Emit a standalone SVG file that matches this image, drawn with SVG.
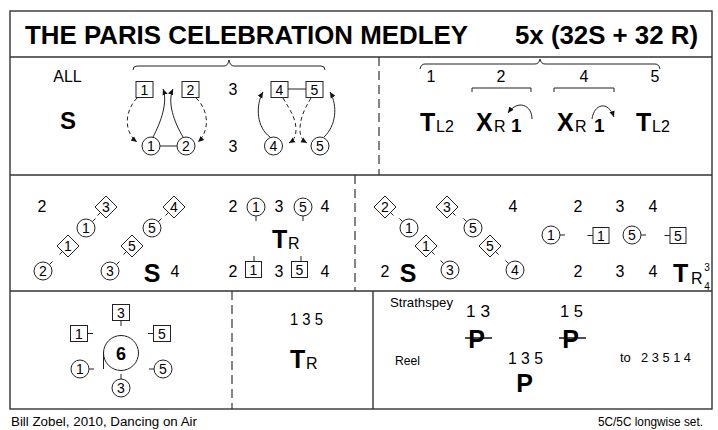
<svg xmlns="http://www.w3.org/2000/svg" width="718" height="430" viewBox="0 0 718 430">
<style>
text{font-family:"Liberation Sans",Arial,Helvetica,sans-serif;fill:#000}
.n{font-size:16px}
.nm{font-size:16px;text-anchor:middle}
.c{font-size:14px;text-anchor:middle}
.m{text-anchor:middle}
.b{font-weight:bold}
.big{font-size:25px;font-weight:bold}
.sub{font-size:16px}
.frame{fill:none;stroke:#333;stroke-width:1.4}
.dash{fill:none;stroke:#333;stroke-width:1.2;stroke-dasharray:9 5}
.sh{fill:#fff;stroke:#222;stroke-width:1}
.tk{stroke:#222;stroke-width:1;fill:none}
.ln{stroke:#222;stroke-width:1;fill:none}
.ar{stroke:#222;stroke-width:1;fill:none;marker-end:url(#ah)}
.ard{stroke:#222;stroke-width:1;fill:none;stroke-dasharray:4 3;marker-end:url(#ah)}
</style>
<defs>
<marker id="ah" markerWidth="8" markerHeight="8" refX="6" refY="3.5" orient="auto" markerUnits="userSpaceOnUse">
<path d="M0,0.8 L6,3.5 L0,6.2 Z" fill="#111"/>
</marker>
</defs>
<rect width="718" height="430" fill="#fff"/>

<g id="frame">
<rect x="10" y="11" width="702" height="398" class="frame"/>
<line x1="10" y1="57" x2="712" y2="57" class="frame"/>
<line x1="10" y1="175" x2="712" y2="175" class="frame"/>
<line x1="10" y1="291" x2="712" y2="291" class="frame"/>
<line x1="379" y1="57" x2="379" y2="175" class="dash"/>
<line x1="355" y1="175" x2="355" y2="291" class="dash"/>
<line x1="232" y1="291" x2="232" y2="409" class="dash"/>
<line x1="373" y1="291" x2="373" y2="409" class="frame"/>
</g>

<g id="title">
<text x="25" y="44" class="b" font-size="25" textLength="443" lengthAdjust="spacingAndGlyphs">THE PARIS CELEBRATION MEDLEY</text>
<text x="515" y="44" class="b" font-size="25" textLength="183" lengthAdjust="spacingAndGlyphs">5x (32S + 32 R)</text>
</g>

<g id="footer">
<text x="11" y="426" font-size="12" textLength="186" lengthAdjust="spacingAndGlyphs">Bill Zobel, 2010, Dancing on Air</text>
<text x="598" y="426" font-size="12" textLength="105" lengthAdjust="spacingAndGlyphs">5C/5C longwise set.</text>
</g>

<!-- Row 1 left -->
<g id="r1-left">
<text x="67.5" y="82" class="m" font-size="16">ALL</text>
<text x="68" y="129" class="m b" font-size="24">S</text>
<path d="M133,70 Q133,66 137,66 L224,66 Q228,66 229,60 Q230,66 234,66 L321,66 Q325,66 325,70" class="ln"/>
<text x="233" y="95" class="nm">3</text>
<text x="233" y="152" class="nm">3</text>
<line x1="288" y1="89" x2="306" y2="89" class="ln"/>
<line x1="160" y1="146" x2="177" y2="146" class="ln"/>
</g>
<g id="sq1a"><rect x="136" y="81.5" width="17" height="16" class="sh"/><text x="144.5" y="94.5" class="c">1</text></g>
<g id="sq2a"><rect x="182" y="81.5" width="17" height="16" class="sh"/><text x="190.5" y="94.5" class="c">2</text></g>
<g id="sq4a"><rect x="271" y="81.5" width="17" height="16" class="sh"/><text x="279.5" y="94.5" class="c">4</text></g>
<g id="sq5a"><rect x="306" y="81.5" width="17" height="16" class="sh"/><text x="314.5" y="94.5" class="c">5</text></g>
<g id="c1a"><circle cx="151" cy="146" r="9" class="sh"/><text x="151" y="151" class="c">1</text></g>
<g id="c2a"><circle cx="186" cy="146" r="9" class="sh"/><text x="186" y="151" class="c">2</text></g>
<g id="c4a"><circle cx="273.5" cy="146" r="9" class="sh"/><text x="273.5" y="151" class="c">4</text></g>
<g id="c5a"><circle cx="320" cy="146" r="9" class="sh"/><text x="320" y="151" class="c">5</text></g>

<g id="connectors">
<path d="M137,98 C124,112 124,132 137,142" class="ard"/>
<path d="M153,137 C161,122 168,102 163,89" class="ar"/>
<path d="M183,137 C174,122 167,102 173,89" class="ar"/>
<path d="M196,98 C209,110 210,131 198,142" class="ard"/>
<path d="M270,137 C257,128 255,106 263,92" class="ar"/>
<path d="M324,137 C336,126 338,106 330,92" class="ar"/>
<path d="M283,98 C290,110 296,118 296,130 C296,136 294,140 289,143" class="ard"/>
<path d="M311,98 C304,110 300,118 300,130 C300,136 302,140 307,143" class="ard"/>
<path d="M532,119 C532,105 518,99 508,113" class="ar"/>
<path d="M592,119 C594,104 608,100 614,117" class="ar"/>
</g>

<!-- Row 1 right -->
<g id="r1-right">
<path d="M420,69 Q421,64 425,64 L535,64 Q539,64 540,59 Q541,64 545,64 L655,64 Q659,64 660,69" class="ln"/>
<text x="431" y="82" class="nm">1</text>
<text x="501" y="82" class="nm">2</text>
<text x="584" y="82" class="nm">4</text>
<text x="655" y="82" class="nm">5</text>
<path d="M472,92 L472,88 L531,88 L531,92" class="ln"/>
<path d="M554,92 L554,88 L614,88 L614,92" class="ln"/>
<text x="420" y="131" class="big">T</text><text x="436" y="132" class="sub">L2</text>
<text x="476" y="131" class="big">X</text><text x="494" y="132" class="sub">R</text><text x="511" y="132" class="b" font-size="19">1</text>
<text x="557" y="131" class="big">X</text><text x="575" y="132" class="sub">R</text><text x="594" y="132" class="b" font-size="19">1</text>
<text x="636" y="131" class="big">T</text><text x="652" y="132" class="sub">L2</text>
</g>

<!-- Row 2 left -->
<g id="r2-left">
<text x="42" y="212" class="nm">2</text>
<text x="152" y="282" class="big m">S</text>
<text x="175" y="277" class="nm">4</text>
</g>
<g id="d3b"><polygon points="106,196 117,207 106,218 95,207" class="sh"/><text x="106" y="212" class="c">3</text><line x1="100.5" y1="212.5" x2="97.5" y2="215.5" class="tk"/></g>
<g id="c1b"><circle cx="86" cy="228" r="9" class="sh"/><text x="86" y="233" class="c">1</text><line x1="92.4" y1="221.6" x2="95.5" y2="218.5" class="tk"/></g>
<g id="d1b"><polygon points="68,235 79,246 68,257 57,246" class="sh"/><text x="68" y="251" class="c">1</text><line x1="62.5" y1="251.5" x2="59.5" y2="254.5" class="tk"/></g>
<g id="c2b"><circle cx="43" cy="271" r="9" class="sh"/><text x="43" y="276" class="c">2</text><line x1="49.4" y1="264.6" x2="52.5" y2="261.5" class="tk"/></g>
<g id="d4b"><polygon points="174,196 185,207 174,218 163,207" class="sh"/><text x="174" y="212" class="c">4</text><line x1="168.5" y1="212.5" x2="165.5" y2="215.5" class="tk"/></g>
<g id="c5b"><circle cx="152" cy="228" r="9" class="sh"/><text x="152" y="233" class="c">5</text><line x1="158.4" y1="221.6" x2="161.5" y2="218.5" class="tk"/></g>
<g id="d5b"><polygon points="132,235 143,246 132,257 121,246" class="sh"/><text x="132" y="251" class="c">5</text><line x1="126.5" y1="251.5" x2="123.5" y2="254.5" class="tk"/></g>
<g id="c3b"><circle cx="110" cy="271" r="9" class="sh"/><text x="110" y="276" class="c">3</text><line x1="116.4" y1="264.6" x2="119.5" y2="261.5" class="tk"/></g>

<!-- Row 2 middle -->
<g id="r2-mid">
<text x="233" y="212" class="nm">2</text>
<text x="279" y="212" class="nm">3</text>
<text x="325" y="212" class="nm">4</text>
<text x="272" y="248" class="big">T</text><text x="288" y="249" class="sub">R</text>
<text x="233" y="277" class="nm">2</text>
<text x="279" y="277" class="nm">3</text>
<text x="325" y="277" class="nm">4</text>
</g>
<g id="c1c"><circle cx="256" cy="207" r="9" class="sh"/><text x="256" y="212" class="c">1</text><line x1="256" y1="216" x2="256" y2="221" class="tk"/></g>
<g id="c5c"><circle cx="303" cy="207" r="9" class="sh"/><text x="303" y="212" class="c">5</text><line x1="303" y1="216" x2="303" y2="221" class="tk"/></g>
<g id="s1c"><rect x="245.5" y="261.5" width="16" height="16" class="sh"/><text x="253.5" y="274.5" class="c">1</text><line x1="254" y1="261.5" x2="254" y2="256" class="tk"/></g>
<g id="s5c"><rect x="291.5" y="261.5" width="16" height="16" class="sh"/><text x="299.5" y="274.5" class="c">5</text><line x1="301" y1="261.5" x2="301" y2="256" class="tk"/></g>

<!-- Row 2 right -->
<g id="r2-right">
<text x="513" y="212" class="nm">4</text>
<text x="385" y="277" class="nm">2</text>
<text x="408" y="282" class="big m">S</text>
<text x="578" y="212" class="nm">2</text>
<text x="620" y="212" class="nm">3</text>
<text x="653" y="212" class="nm">4</text>
<text x="578" y="277" class="nm">2</text>
<text x="620" y="277" class="nm">3</text>
<text x="653" y="277" class="nm">4</text>
<text x="673" y="282" class="big">T</text><text x="691" y="284" class="sub">R</text>
<text x="707" y="271" font-size="10" class="m">3</text>
<text x="707" y="290" font-size="10" class="m">4</text>
</g>
<g id="d2d"><polygon points="385,196 396,207 385,218 374,207" class="sh"/><text x="385" y="212" class="c">2</text><line x1="390.5" y1="212.5" x2="393.5" y2="215.5" class="tk"/></g>
<g id="c1d"><circle cx="409" cy="228" r="9" class="sh"/><text x="409" y="233" class="c">1</text><line x1="402.6" y1="221.6" x2="399.5" y2="218.5" class="tk"/></g>
<g id="d1d"><polygon points="426,235 437,246 426,257 415,246" class="sh"/><text x="426" y="251" class="c">1</text><line x1="431.5" y1="251.5" x2="434.5" y2="254.5" class="tk"/></g>
<g id="c3d"><circle cx="450" cy="270" r="9" class="sh"/><text x="450" y="275" class="c">3</text><line x1="443.6" y1="263.6" x2="440.5" y2="260.5" class="tk"/></g>
<g id="d3d"><polygon points="447,196 458,207 447,218 436,207" class="sh"/><text x="447" y="212" class="c">3</text><line x1="452.5" y1="212.5" x2="455.5" y2="215.5" class="tk"/></g>
<g id="c5d"><circle cx="473" cy="228" r="9" class="sh"/><text x="473" y="233" class="c">5</text><line x1="466.6" y1="221.6" x2="463.5" y2="218.5" class="tk"/></g>
<g id="d5d"><polygon points="490,235 501,246 490,257 479,246" class="sh"/><text x="490" y="251" class="c">5</text><line x1="495.5" y1="251.5" x2="498.5" y2="254.5" class="tk"/></g>
<g id="c4d"><circle cx="515" cy="270" r="9" class="sh"/><text x="515" y="275" class="c">4</text><line x1="508.6" y1="263.6" x2="505.5" y2="260.5" class="tk"/></g>
<g id="c1e"><circle cx="551" cy="235" r="9" class="sh"/><text x="551" y="240" class="c">1</text><line x1="560" y1="235" x2="565" y2="235" class="tk"/></g>
<g id="s1e"><rect x="593" y="227.5" width="16" height="16" class="sh"/><text x="601" y="240.5" class="c">1</text><line x1="593" y1="235.5" x2="587.5" y2="235.5" class="tk"/></g>
<g id="c5e"><circle cx="632" cy="235" r="9" class="sh"/><text x="632" y="240" class="c">5</text><line x1="641" y1="235" x2="646" y2="235" class="tk"/></g>
<g id="s5e"><rect x="670" y="227.5" width="16" height="16" class="sh"/><text x="678" y="240.5" class="c">5</text><line x1="670" y1="235.5" x2="664.5" y2="235.5" class="tk"/></g>

<!-- Row 3 left -->
<g id="c6"><circle cx="121" cy="353" r="17.5" class="sh"/><text x="121" y="359.5" class="b m" font-size="18">6</text><line x1="103.5" y1="352" x2="103.5" y2="369" class="ln"/></g>
<g id="s3f"><rect x="112.5" y="304.5" width="17" height="16" class="sh"/><text x="121" y="317.5" class="c">3</text><line x1="121" y1="320.5" x2="121" y2="326" class="tk"/></g>
<g id="s1f"><rect x="70.5" y="325.5" width="17" height="16" class="sh"/><text x="79" y="338.5" class="c">1</text><line x1="87.5" y1="333.5" x2="93" y2="333.5" class="tk"/></g>
<g id="s5f"><rect x="153.5" y="325.5" width="17" height="16" class="sh"/><text x="162" y="338.5" class="c">5</text><line x1="153.5" y1="333.5" x2="148" y2="333.5" class="tk"/></g>
<g id="c1f"><circle cx="80" cy="369" r="9" class="sh"/><text x="80" y="374" class="c">1</text><line x1="89" y1="369" x2="94" y2="369" class="tk"/></g>
<g id="c5f"><circle cx="163" cy="369" r="9" class="sh"/><text x="163" y="374" class="c">5</text><line x1="154" y1="369" x2="149" y2="369" class="tk"/></g>
<g id="c3f"><circle cx="121" cy="388" r="9" class="sh"/><text x="121" y="393" class="c">3</text><line x1="121" y1="379" x2="121" y2="374" class="tk"/></g>

<!-- Row 3 middle -->
<g id="r3-mid">
<text x="290" y="325" class="n" textLength="33" lengthAdjust="spacingAndGlyphs">1 3 5</text>
<text x="290" y="368" class="big">T</text><text x="306" y="369" class="sub">R</text>
</g>

<!-- Row 3 right -->
<g id="r3-right">
<text x="390" y="307" font-size="13" textLength="63" lengthAdjust="spacingAndGlyphs">Strathspey</text>
<text x="466" y="317" class="n" textLength="24" lengthAdjust="spacingAndGlyphs">1 3</text>
<text x="476.5" y="348" class="big m">P</text>
<line x1="465" y1="338" x2="492" y2="338" stroke="#000" stroke-width="1.4"/>
<text x="560" y="317" class="n" textLength="23" lengthAdjust="spacingAndGlyphs">1 5</text>
<text x="570.5" y="348" class="big m">P</text>
<line x1="559" y1="338" x2="586" y2="338" stroke="#000" stroke-width="1.4"/>
<text x="395" y="365" font-size="13" textLength="25" lengthAdjust="spacingAndGlyphs">Reel</text>
<text x="508" y="364" class="n" textLength="35" lengthAdjust="spacingAndGlyphs">1 3 5</text>
<text x="524.5" y="392" class="big m">P</text>
<text x="620" y="362" font-size="13">to</text>
<text x="641" y="362" font-size="13" textLength="50" lengthAdjust="spacingAndGlyphs">2 3 5 1 4</text>
</g>
</svg>
